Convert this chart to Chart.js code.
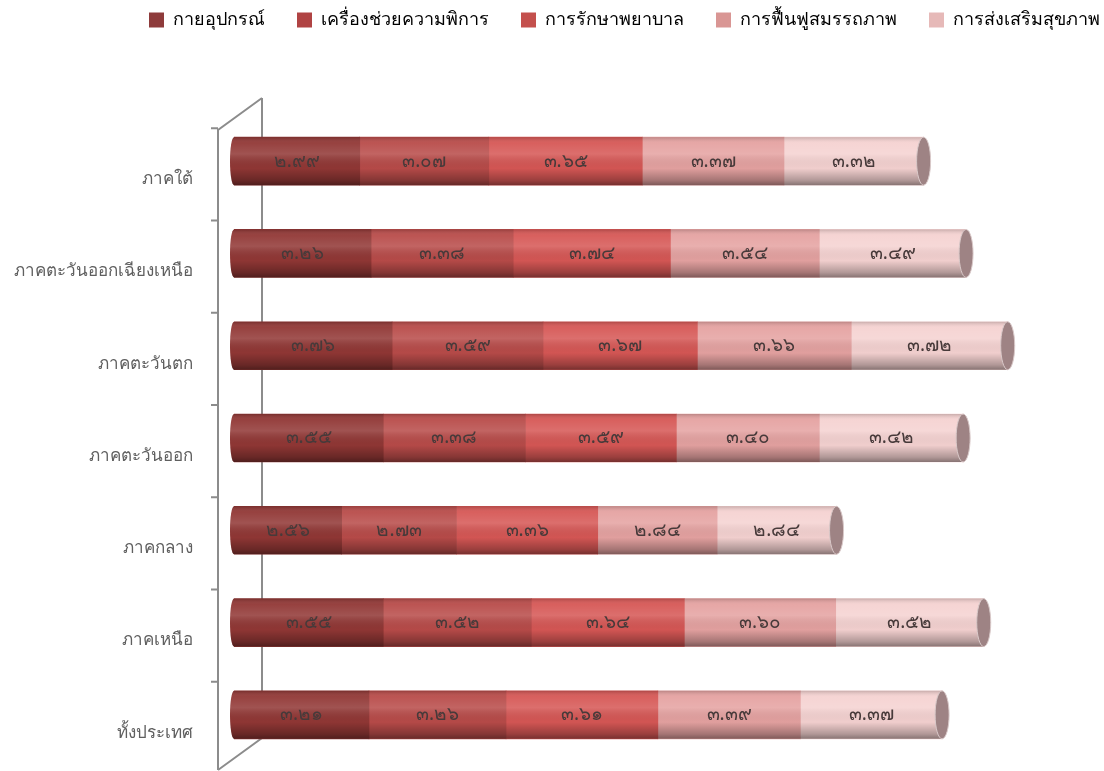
<!DOCTYPE html>
<html>
<head>
<meta charset="utf-8">
<script src="https://cdn.jsdelivr.net/npm/chart.js@4.4.1/dist/chart.umd.min.js"></script>
<style>
  html, body { margin: 0; padding: 0; background: #fff; }
  #wrap { width: 1104px; height: 771px; }
</style>
</head>
<body>
<div id="wrap"><canvas id="regionChart"></canvas></div>
<script>
// ภูมิภาค
const regions = ['ภาคใต้', 'ภาคตะวันออกเฉียงเหนือ', 'ภาคตะวันตก', 'ภาคตะวันออก', 'ภาคกลาง', 'ภาคเหนือ', 'ทั้งประเทศ'];

// ค่าเฉลี่ยแต่ละด้าน
const equipment   = [2.99, 3.26, 3.76, 3.55, 2.56, 3.55, 3.21]; // กายอุปกรณ์
const assistive   = [3.07, 3.38, 3.59, 3.38, 2.73, 3.52, 3.26]; // เครื่องช่วยความพิการ
const treatment   = [3.65, 3.74, 3.67, 3.59, 3.36, 3.64, 3.61]; // การรักษาพยาบาล
const rehab       = [3.37, 3.54, 3.66, 3.40, 2.84, 3.60, 3.39]; // การฟื้นฟูสมรรถภาพ
const promotion   = [3.32, 3.49, 3.72, 3.42, 2.84, 3.52, 3.37]; // การส่งเสริมสุขภาพ

const seriesNames = ['กายอุปกรณ์', 'เครื่องช่วยความพิการ', 'การรักษาพยาบาล', 'การฟื้นฟูสมรรถภาพ', 'การส่งเสริมสุขภาพ'];
const barColors = ['#913735', '#B84B49', '#D65755', '#E5A2A1', '#F5D2D1'];
const legendColors = ['#8E3B3B', '#B04343', '#C4504D', '#D99694', '#E6B9B8'];

const thaiDigits = '๐๑๒๓๔๕๖๗๘๙';
function toThai(v) {
    return v.toFixed(2).replace(/[0-9]/g, d => thaiDigits[+d]);
}

// ผนังแบบ 3 มิติด้านซ้าย
const wallPlugin = {
    id: 'wall',
    beforeDatasetsDraw(chart) {
        const c = chart.ctx;
        const area = chart.chartArea;
        const yScale = chart.scales.y;
        const front = area.left + 28, back = area.left - 16;
        const top = area.top - 17, bottom = area.bottom - 23;
        c.save();
        c.strokeStyle = '#8c8c8c';
        c.lineWidth = 2;
        c.beginPath();
        c.moveTo(front, top); c.lineTo(front, bottom); c.lineTo(back, bottom + 32);
        c.moveTo(front, top); c.lineTo(back, top + 32); c.lineTo(back, bottom + 32);
        // ขีดแบ่งหมวด
        for (let i = 0; i < regions.length; i++) {
            const y = yScale.getPixelForValue(i) - 33;
            c.moveTo(back - 7, y); c.lineTo(back, y);
        }
        c.stroke();
        c.restore();
    }
};

// แรเงาทรงกระบอก ฝาปลาย และป้ายค่า
const cylinderPlugin = {
    id: 'cylinder',
    afterDatasetsDraw(chart) {
        const c = chart.ctx;
        const first = chart.getDatasetMeta(0).data;
        const last = chart.getDatasetMeta(chart.data.datasets.length - 1).data;
        c.save();
        first.forEach((bar, i) => {
            const x0 = bar.base, x1 = last[i].x, y = bar.y, h = bar.height;
            const top = y - h / 2;
            // ปลายซ้ายโค้ง
            c.fillStyle = barColors[0];
            c.beginPath();
            c.ellipse(x0, y, 4, h / 2, 0, Math.PI / 2, Math.PI * 1.5);
            c.fill();
            // แรเงา
            const g = c.createLinearGradient(0, top, 0, top + h);
            g.addColorStop(0, 'rgba(0,0,0,0.18)');
            g.addColorStop(0.12, 'rgba(255,255,255,0.05)');
            g.addColorStop(0.35, 'rgba(255,255,255,0.14)');
            g.addColorStop(0.65, 'rgba(0,0,0,0.02)');
            g.addColorStop(0.9, 'rgba(0,0,0,0.28)');
            g.addColorStop(1, 'rgba(0,0,0,0.45)');
            c.fillStyle = g;
            c.beginPath();
            c.ellipse(x0, y, 4, h / 2, 0, Math.PI / 2, Math.PI * 1.5);
            c.lineTo(x1, top);
            c.lineTo(x1, top + h);
            c.closePath();
            c.fill();
            // ฝาปลายขวา
            c.fillStyle = '#9E8384';
            c.strokeStyle = '#d9c9c9';
            c.lineWidth = 1;
            c.beginPath();
            c.ellipse(x1, y, 7, h / 2, 0, 0, Math.PI * 2);
            c.fill();
            c.stroke();
        });
        // ป้ายค่า
        c.font = '19px "Noto Sans", sans-serif';
        c.fillStyle = '#473a3a';
        c.textAlign = 'center';
        c.textBaseline = 'middle';
        chart.data.datasets.forEach((ds, di) => {
            chart.getDatasetMeta(di).data.forEach((bar, i) => {
                const p = bar.getCenterPoint();
                c.fillText(toThai(ds.data[i]), p.x, p.y);
            });
        });
        c.restore();
    }
};

// ตำแหน่งคำอธิบายสัญลักษณ์ (ให้อยู่บรรทัดเดียวเหมือนต้นฉบับ)
const legendPlace = {
    id: 'legendPlace',
    beforeInit(chart) {
        const fit = chart.legend.fit;
        chart.legend.fit = function () {
            this.maxWidth = 1400;
            fit.bind(chart.legend)();
            this.height = 115;
        };
    },
    afterLayout(chart) {
        const lg = chart.legend;
        lg.left = 117;
        lg.right = 1400;
        lg.top = -21;
    }
};

const seriesData = [equipment, assistive, treatment, rehab, promotion];

new Chart(document.getElementById('regionChart'), {
    type: 'bar',
    data: {
        labels: regions,
        datasets: seriesData.map((d, i) => ({
            label: seriesNames[i],
            data: d,
            backgroundColor: barColors[i],
            borderWidth: 0,
            barThickness: 48
        }))
    },
    options: {
        indexAxis: 'y',
        responsive: true,
        maintainAspectRatio: false,
        animation: false,
        layout: { padding: { top: 0, right: 8, bottom: 10, left: 0 } },
        plugins: {
            legend: {
                position: 'top',
                align: 'start',
                labels: {
                    boxWidth: 15,
                    boxHeight: 15,
                    padding: 32,
                    color: '#595959',
                    font: { family: '"Noto Sans", sans-serif', size: 18 },
                    generateLabels: chart => chart.data.datasets.map((ds, i) => ({
                        text: ds.label,
                        fillStyle: legendColors[i],
                        strokeStyle: legendColors[i],
                        lineWidth: 0,
                        datasetIndex: i,
                        hidden: false
                    }))
                }
            },
            tooltip: { enabled: false }
        },
        scales: {
            x: {
                stacked: true,
                display: false,
                min: 0,
                max: 20.5
            },
            y: {
                stacked: true,
                grid: { display: false, drawTicks: false },
                border: { display: false },
                ticks: {
                    padding: 41,
                    labelOffset: 18,
                    color: '#5f5f5f',
                    font: { family: '"Noto Sans", sans-serif', size: 17 }
                },
                afterFit(scale) {
                    scale.width = 234;
                    scale.paddingTop = 0;
                    scale.paddingBottom = 0;
                }
            }
        }
    },
    plugins: [wallPlugin, cylinderPlugin, legendPlace]
});
</script>
</body>
</html>
